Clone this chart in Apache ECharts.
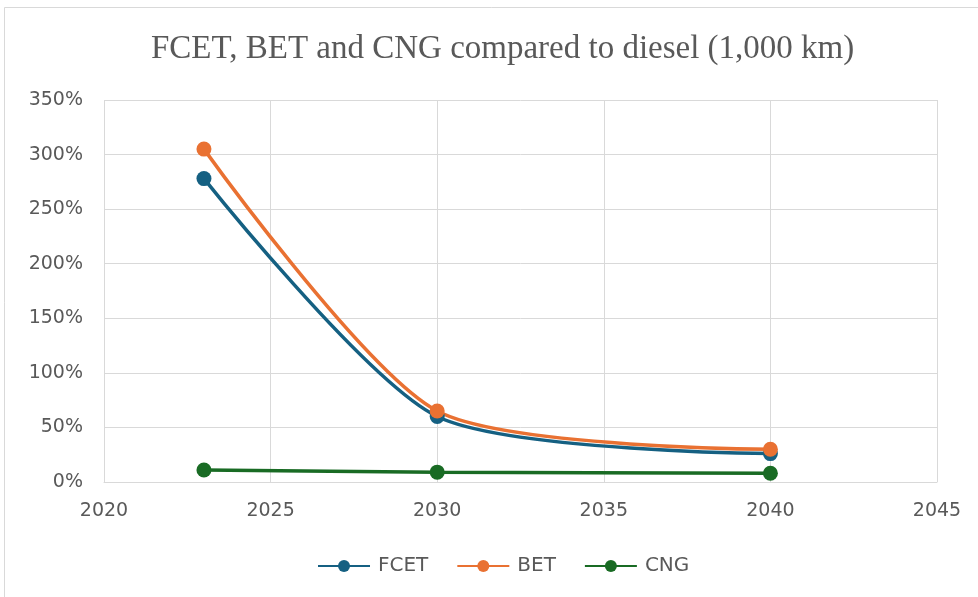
<!DOCTYPE html>
<html>
<head>
<meta charset="utf-8">
<script src="https://cdn.jsdelivr.net/npm/echarts@6/dist/echarts.min.js"></script>
<style>
  html, body { margin: 0; padding: 0; background: #fff; }
  #chart { width: 978px; height: 597px; }
</style>
</head>
<body>
<div id="chart"></div>
<script>
// years and ratios to diesel (in %)
const years = [2023, 2030, 2040];
const fcet = [278, 60, 26];
const bet = [305, 65, 30];
const cng = [11, 9, 8];

const chart = echarts.init(document.getElementById('chart'));

function makeSeries(name, values, color) {
  return {
    name: name,
    type: 'line',
    smooth: 0.25,
    data: years.map((y, i) => [y, values[i]]),
    symbol: 'circle',
    symbolSize: 15,
    lineStyle: { color: color, width: 3.5 },
    itemStyle: { color: color },
    z: 3
  };
}

const option = {
  backgroundColor: '#fff',
  animation: false,
  graphic: [{
    type: 'rect',
    shape: { x: 4.5, y: 7.5, width: 990, height: 600 },
    style: { fill: 'none', stroke: '#d9d9d9', lineWidth: 1 },
    silent: true
  }],
  title: {
    text: 'FCET, BET and CNG compared to diesel (1,000 km)',
    left: 146,
    top: 28,
    textStyle: {
      fontFamily: 'Liberation Serif',
      fontWeight: 'normal',
      fontSize: 33,
      color: '#595959'
    }
  },
  legend: {
    bottom: 16,
    left: 312,
    itemWidth: 52,
    itemHeight: 15,
    itemGap: 28,
    textStyle: { fontFamily: 'DejaVu Sans', fontSize: 20, color: '#595959', padding: [0, 0, 0, 3] },
    data: ['FCET', 'BET', 'CNG']
  },
  grid: { left: 104, right: 41, top: 100, bottom: 115 },
  xAxis: {
    type: 'value',
    min: 2020,
    max: 2045,
    interval: 5,
    axisLine: { show: true, lineStyle: { color: '#d9d9d9' } },
    axisTick: { show: false },
    splitLine: { show: true, lineStyle: { color: '#d9d9d9', width: 1 } },
    axisLabel: {
      color: '#595959', fontFamily: 'DejaVu Sans', fontSize: 19, margin: 20,
      formatter: v => String(v)
    }
  },
  yAxis: {
    type: 'value',
    min: 0,
    max: 350,
    interval: 50,
    axisLine: { show: false },
    axisTick: { show: false },
    splitLine: { lineStyle: { color: '#d9d9d9', width: 1 } },
    axisLabel: {
      color: '#595959', fontFamily: 'DejaVu Sans', fontSize: 19, margin: 21,
      formatter: v => v + '%'
    }
  },
  series: [
    makeSeries('FCET', fcet, '#156082'),
    makeSeries('BET', bet, '#e97132'),
    makeSeries('CNG', cng, '#196b24')
  ]
};

chart.setOption(option);
</script>
</body>
</html>
